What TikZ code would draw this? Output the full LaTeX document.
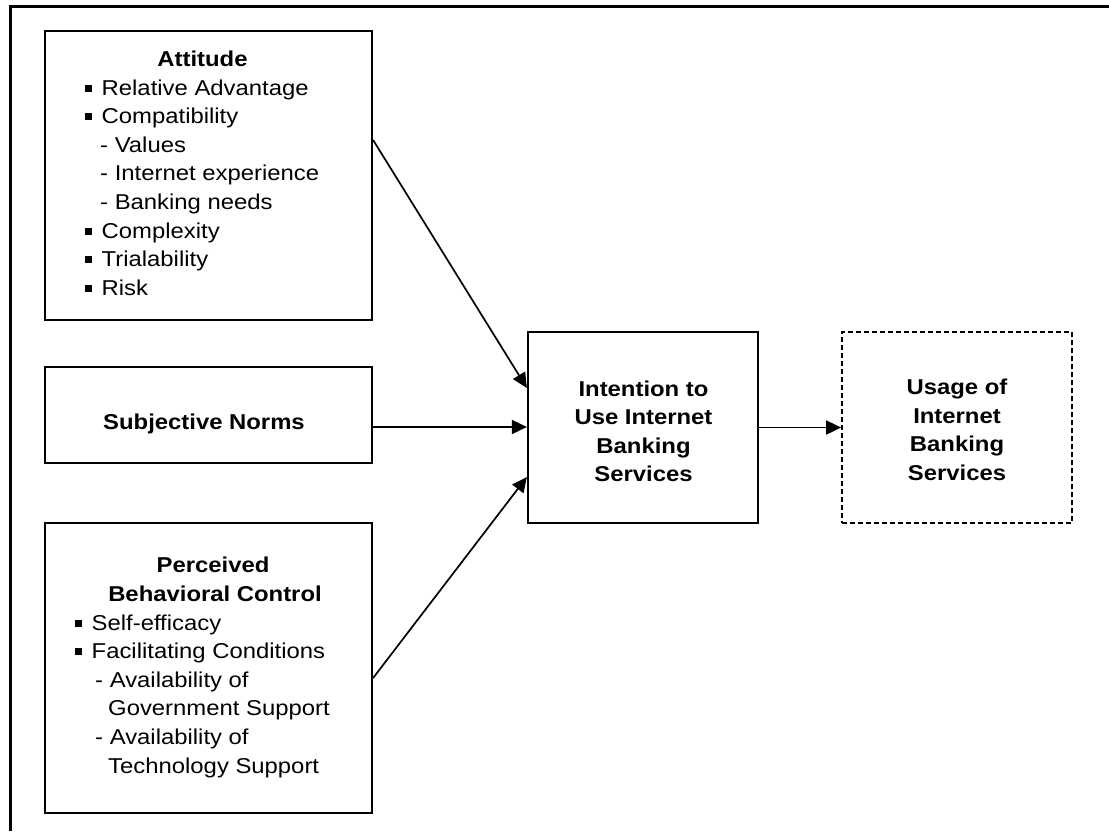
\documentclass[tikz,border=0pt]{standalone}
\usepackage{fontspec}
\setmainfont{Liberation Sans}[FakeStretch=1.11]
\usetikzlibrary{arrows.meta}
\newcommand\sqb{\makebox[16.5pt][l]{\raisebox{3.3pt}{\rule{6.9pt}{6.9pt}}}}
\begin{document}
\begin{tikzpicture}[x=1pt,y=-1pt,
  boxnode/.style={draw,line width=2.2pt,rectangle,inner sep=0pt},
  dashbox/.style={draw,line width=1.7pt,dash pattern=on 5pt off 3pt,rectangle,inner sep=0pt},
  frame/.style={line width=2.2pt},
  arr/.style={line width=1.7pt,-{Triangle[length=15pt,width=14pt]}},
  txt/.style={inner sep=0pt,anchor=base west,font=\fontsize{21.5}{28.5}\selectfont},
  ttl/.style={inner sep=0pt,anchor=base,font=\fontsize{21.5}{28.5}\selectfont\bfseries}]
\useasboundingbox (0,0) rectangle (1109,831);
% outer frame (top and left edges only)
\coordinate (fr1) at (1109,6.5);
\coordinate (fr2) at (10.5,6.5);
\coordinate (fr3) at (10.5,831);
\draw[frame] (fr1) -- (fr2) -- (fr3);
% boxes
\node[boxnode,minimum width=327pt,minimum height=289pt] (att) at (208.5,175.5) {};
\node[boxnode,minimum width=327pt,minimum height=96pt] (sn) at (208.5,415) {};
\node[boxnode,minimum width=327pt,minimum height=290pt] (pbc) at (208.5,668) {};
\node[boxnode,minimum width=230pt,minimum height=191pt] (int) at (643,427.5) {};
\node[dashbox,minimum width=230pt,minimum height=191pt] (use) at (957,427.5) {};
% Attitude text
\node[ttl] (attT) at (202.5,66.4) {Attitude};
\node[txt] (a1) at (85,95) {\sqb Relative Advantage};
\node[txt] (a2) at (85,123.6) {\sqb Compatibility};
\node[txt] (a3) at (100,152.2) {- Values};
\node[txt] (a4) at (100,180.8) {- Internet experience};
\node[txt] (a5) at (100,209.4) {- Banking needs};
\node[txt] (a6) at (85,238) {\sqb Complexity};
\node[txt] (a7) at (85,266.6) {\sqb Trialability};
\node[txt] (a8) at (85,295.2) {\sqb Risk};
% Subjective norms
\node[ttl] (snT) at (204,429) {Subjective Norms};
% Perceived behavioral control
\node[ttl] (pT1) at (213,572.8) {Perceived};
\node[ttl] (pT2) at (215,601.4) {Behavioral Control};
\node[txt] (p1) at (75,630) {\sqb Self-efficacy};
\node[txt] (p2) at (75,658.6) {\sqb Facilitating Conditions};
\node[txt] (p3) at (95,687.2) {- Availability of};
\node[txt] (p4) at (108,715.8) {Government Support};
\node[txt] (p5) at (95,744.4) {- Availability of};
\node[txt] (p6) at (108,773) {Technology Support};
% Intention
\node[ttl] (i1) at (643.5,396) {Intention to};
\node[ttl] (i2) at (643.5,424.5) {Use Internet};
\node[ttl] (i3) at (643.5,453) {Banking};
\node[ttl] (i4) at (643.5,481.5) {Services};
% Usage
\node[ttl] (u1) at (957,394.5) {Usage of};
\node[ttl] (u2) at (957,423) {Internet};
\node[ttl] (u3) at (957,451.5) {Banking};
\node[ttl] (u4) at (957,480) {Services};
% connectors
\draw[arr] ([yshift=35.5pt]att.east) -- ([yshift=39.5pt]int.west);
\draw[arr] ([yshift=-12pt]sn.east) -- ([yshift=-12pt]sn.east -| int.west);
\draw[arr] ([yshift=-10pt]pbc.east) -- ([yshift=-49.5pt]int.west);
\draw[arr] (int.east) -- (use.west);
\end{tikzpicture}
\end{document}
